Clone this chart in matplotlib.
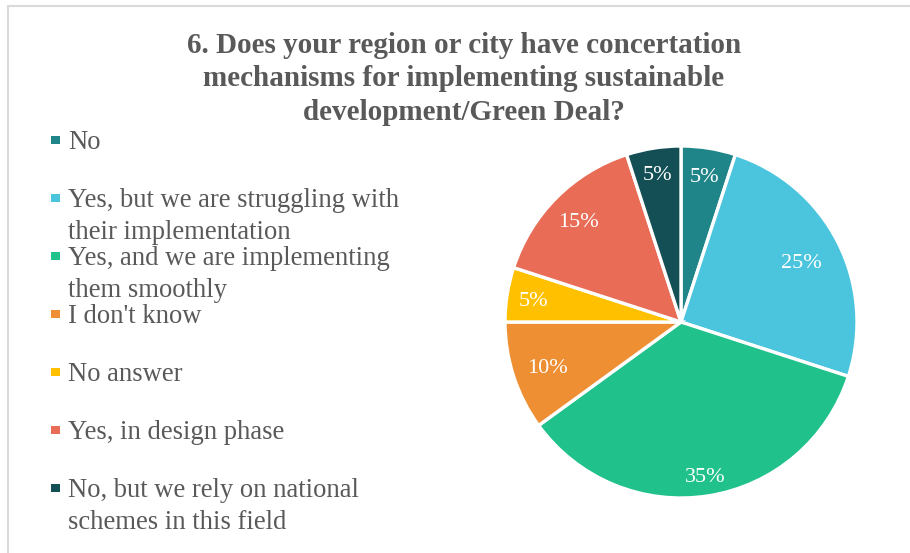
import matplotlib
matplotlib.use("Agg")
import matplotlib.pyplot as plt
from matplotlib.patches import Rectangle
import numpy as np

# Survey answers and their shares (percent)
categories = [
    "No",
    "Yes, but we are struggling with\ntheir implementation",
    "Yes, and we are implementing\nthem smoothly",
    "I don't know",
    "No answer",
    "Yes, in design phase",
    "No, but we rely on national\nschemes in this field",
]
shares = [5, 25, 35, 10, 5, 15, 5]

colors = ["#1F8589", "#4BC4DE", "#20C18A", "#EE8F33", "#FFC000", "#E86C56", "#134F55"]
label_radius = [0.85, 0.77, 0.88, 0.80, 0.85, 0.82, 0.86]

title_lines = [
    "6. Does your region or city have concertation",
    "mechanisms for implementing sustainable",
    "development/Green Deal?",
]

W, H = 910, 553
fig = plt.figure(figsize=(W / 100, H / 100), dpi=100)
fig.patch.set_facecolor("white")

serif = ["Liberation Serif", "DejaVu Serif"]
text_grey = "#595959"


def fx(px):
    return px / W


def fy(py):
    return 1 - py / H


# chart frame (runs off the right and bottom edges)
fig.add_artist(Rectangle((fx(7.5), fy(560)), fx(920), (560 - 5.5) / H,
                         transform=fig.transFigure, fill=False,
                         edgecolor="#D9D9D9", linewidth=1.5))

# pie
cx, cy, r = 681, 322, 176
ax = fig.add_axes([fx(cx - r), fy(cy + r), fx(2 * r), 2 * r / H])
wedges, _ = ax.pie(shares, colors=colors, startangle=90, counterclock=False,
                   radius=1.0,
                   wedgeprops=dict(edgecolor="white", linewidth=2.4))
ax.set_xlim(-1, 1)
ax.set_ylim(-1, 1)
ax.set_aspect("auto")
ax.axis("off")

# percentage labels, baseline set a little below the visual centre
baseline_drop = 7.5 / r
for w, v, rr in zip(wedges, shares, label_radius):
    ang = np.deg2rad((w.theta1 + w.theta2) / 2)
    ax.text(rr * np.cos(ang), rr * np.sin(ang) - baseline_drop, f"{v}%",
            ha="center", va="baseline", color="white", fontsize=16,
            family=serif)

# title, one line at a time
title_base = [53, 86.5, 120]
for line, yb in zip(title_lines, title_base):
    fig.text(fx(464), fy(yb), line, ha="center", va="baseline", fontsize=21,
             fontweight="bold", color=text_grey, family=serif)

# legend
entry_top = 149
entry_step = 58
line_step = 32
for i, (lab, col) in enumerate(zip(categories, colors)):
    base = entry_top + i * entry_step
    fig.add_artist(Rectangle((fx(51), fy(144 + i * entry_step)), fx(9), 8 / H,
                             transform=fig.transFigure, facecolor=col,
                             edgecolor="none"))
    for j, part in enumerate(lab.split("\n")):
        fig.text(fx(68), fy(base + j * line_step), part, ha="left",
                 va="baseline", fontsize=19.2, color=text_grey, family=serif)

fig.savefig("out.png", dpi=100, facecolor="white")
